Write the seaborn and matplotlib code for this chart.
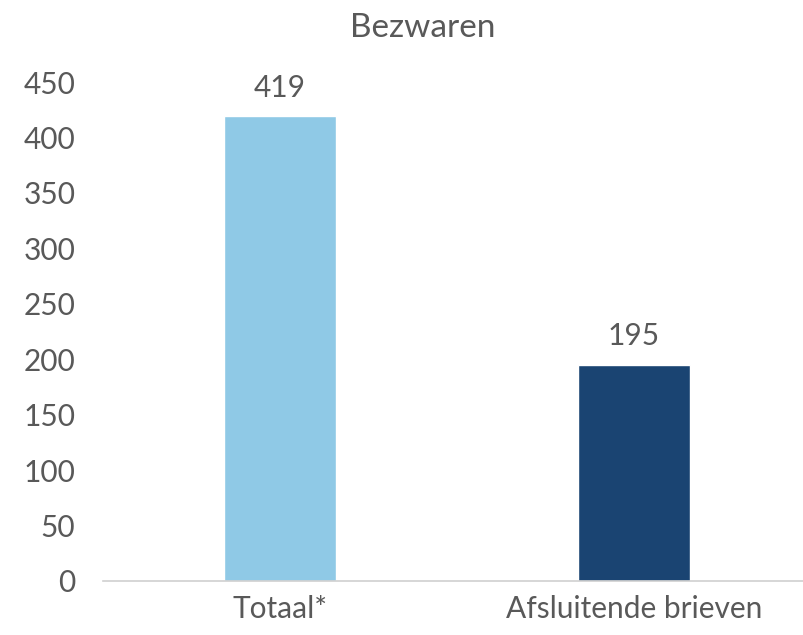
import matplotlib
matplotlib.use("Agg")
import matplotlib.pyplot as plt
import seaborn as sns
import pandas as pd

categories = ["Totaal*", "Afsluitende brieven"]
values = [419, 195]
colors = ["#8FC9E6", "#1A4472"]
title = "Bezwaren"

sns.set_style("white")
plt.rcParams['font.family'] = ['Lato', 'DejaVu Sans']
text_color = "#595959"
fs = 21.5

df = pd.DataFrame({"cat": categories, "val": values})
fig = plt.figure(figsize=(8.04, 6.35), dpi=100)
ax = fig.add_axes([103 / 804, 1 - 581 / 635, 708 / 804, 499 / 635])
sns.barplot(data=df, x="cat", y="val", hue="cat", palette=colors, width=0.315,
            legend=False, ax=ax, saturation=1)

ax.set_ylim(0, 450)
ax.set_yticks(range(0, 451, 50))
ax.set_xlabel("")
ax.set_ylabel("")
for s in ["top", "right", "left"]:
    ax.spines[s].set_visible(False)
ax.spines["bottom"].set_color("#D0D0D0")
ax.spines["bottom"].set_linewidth(1.2)
ax.tick_params(axis="y", length=0, labelsize=fs, colors=text_color, pad=20)
ax.tick_params(axis="x", length=0, labelsize=fs, colors=text_color, pad=10)

for i, v in enumerate(values):
    ax.annotate(str(v), xy=(i, v), xytext=(0, 14), textcoords="offset points",
                ha="center", va="baseline", fontsize=fs, color=text_color)

fig.text(423 / 804, 1 - 37 / 635, title, ha="center", va="baseline",
         fontsize=24, color=text_color)
fig.savefig("out.png", dpi=100)
